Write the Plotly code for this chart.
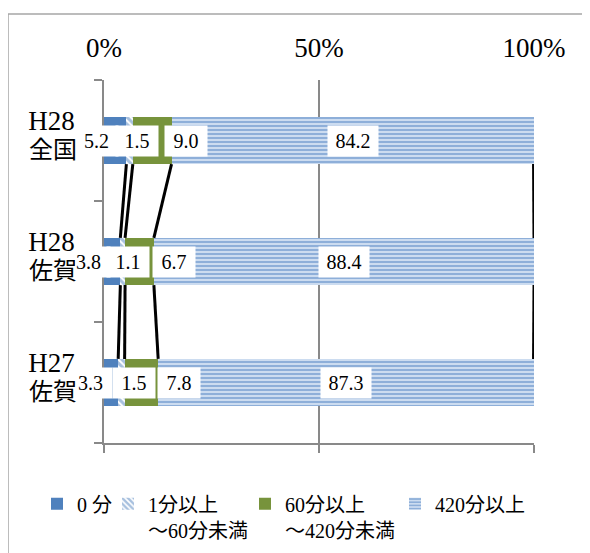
import plotly.graph_objects as go

# ---- data ----
cat_line1 = ["H28", "H28", "H27"]
cat_line2 = ["全国", "佐賀", "佐賀"]
series_names = ["0 分", "1分以上<br>～60分未満", "60分以上<br>～420分未満", "420分以上"]
v_0 = [5.2, 3.8, 3.3]
v_1_60 = [1.5, 1.1, 1.5]
v_60_420 = [9.0, 6.7, 7.8]
v_420 = [84.2, 88.4, 87.3]
x_ticks = [0, 50, 100]
x_ticktext = ["0%", "50%", "100%"]

series = [v_0, v_1_60, v_60_420, v_420]

# ---- styles ----
FONT = "Liberation Serif, Noto Sans CJK JP, serif"
GRAY = "#898989"
BLUE = "#4F81BD"
GREEN = "#77933C"
BAR_W = 0.39
markers = [
    dict(color=BLUE, line=dict(width=0)),
    dict(color="white", line=dict(width=0),
         pattern=dict(shape="\\", fgcolor=BLUE, bgcolor="white", size=5, solidity=0.6)),
    dict(color=GREEN, line=dict(width=0)),
    dict(color="#c9d8ee", line=dict(width=0),
         pattern=dict(shape="-", fgcolor="#4a7dc0", bgcolor="#d3e0f2", size=4, solidity=0.55)),
]
# label pixel nudges (Excel auto-placement), per category per series
label_shift = [[-18, 7, 34, 0], [-23, 5, 35, 0], [-20, 13, 38, 0]]
label_box_w = [34, 42, 42, 50]
label_align = ["left", "center", "center", "center"]
label_box_extra = [4, 0, 0, 0]   # box offset so that text sits at the nudged spot

# page body margin offset (browser default) compensation
OFF = 8
W, H = 590, 553
L, T = 104 - OFF, 80 - OFF
pw, ph = 430, 369
R, B = W - L - pw, H - T - ph

def px_x(fx):  # figure px -> paper x
    return (fx - L) / pw

def px_y(fy):  # figure px -> paper y
    return (T + ph - fy) / ph

legend_x_screen = [37, 108, 245, 395]
legend_top_screen = 491

ypos = list(range(len(cat_line1)))
ncat = len(ypos)

fig = go.Figure()
legend_ids = ["legend", "legend2", "legend3", "legend4"]
for name, vals, mk, lid in zip(series_names, series, markers, legend_ids):
    fig.add_trace(go.Bar(
        x=vals, y=ypos, orientation="h", name=name, width=BAR_W,
        marker=mk, hoverinfo="skip", legend=lid))

# cumulative ends
cum = []
running = [0.0] * ncat
starts = []
for vals in series:
    starts.append(running[:])
    running = [r + v for r, v in zip(running, vals)]
    cum.append(running[:])

# series lines
half = BAR_W / 2
for k in range(len(series)):
    for i in range(ncat - 1):
        fig.add_trace(go.Scatter(
            x=[cum[k][i], cum[k][i + 1]], y=[i + half, i + 1 - half],
            mode="lines", line=dict(color="black", width=3),
            showlegend=False, hoverinfo="skip", xaxis="x2"))

# carrier for second category-label axis
fig.add_trace(go.Scatter(x=[None], y=[None], yaxis="y3", showlegend=False,
                         hoverinfo="skip"))

# data labels
for k, vals in enumerate(series):
    for i, v in enumerate(vals):
        txt = f"{v:.1f}"
        fig.add_annotation(
            x=starts[k][i] + v / 2, y=ypos[i], xref="x", yref="y",
            text=txt, showarrow=False,
            xshift=label_shift[i][k] + label_box_extra[k],
            font=dict(family=FONT, size=20, color="black"),
            bgcolor="white", width=label_box_w[k], height=30,
            align=label_align[k], borderpad=0)

fig.add_shape(type="rect", xref="paper", yref="paper",
              x0=px_x(0), x1=px_x(W + 20),
              y0=px_y(H + 20), y1=px_y(13 - OFF),
              line=dict(color="#a6a6a6", width=1.5), fillcolor="rgba(0,0,0,0)",
              layer="below")

legend_common = dict(orientation="h", xanchor="left", yanchor="top",
                     valign="top", font=dict(family=FONT, size=20),
                     bgcolor="rgba(0,0,0,0)")
legends = {}
for lid, lx in zip(legend_ids, legend_x_screen):
    legends[lid] = dict(legend_common, x=px_x(lx - OFF),
                        y=px_y(legend_top_screen - OFF))

yrange = [ncat - 0.5, -0.5]
fig.update_layout(
    width=W, height=H, margin=dict(l=L, r=R, t=T, b=B),
    barmode="stack", paper_bgcolor="white", plot_bgcolor="white",
    font=dict(family=FONT, color="black"),
    xaxis=dict(range=[0, 100], tickvals=x_ticks, showticklabels=False,
               showgrid=True, gridcolor=GRAY, gridwidth=1.5,
               showline=True, linecolor=GRAY, linewidth=1.5,
               ticks="outside", ticklen=8, tickcolor=GRAY, tickwidth=1.5,
               zeroline=False, fixedrange=True),
    xaxis2=dict(range=[0, 100], overlaying="x", side="top", anchor="y",
                tickvals=x_ticks, ticktext=x_ticktext, showgrid=False,
                showline=False, ticks="", zeroline=False,
                tickfont=dict(family=FONT, size=27), ticklabelstandoff=17),
    yaxis=dict(range=yrange, tickvals=ypos,
               ticktext=cat_line1, ticks="", showgrid=False, zeroline=False,
               showline=True, linecolor=GRAY, linewidth=1.5,
               tickfont=dict(family=FONT, size=27), ticklabelstandoff=22,
               ticklabelshift=20,
               minor=dict(tickvals=[-0.5, 0.5, 1.5, 2.5], ticks="outside",
                          ticklen=8, tickcolor=GRAY, tickwidth=1.5)),
    yaxis3=dict(range=yrange, overlaying="y", side="left", anchor="x",
                tickvals=ypos, ticktext=cat_line2, ticks="", showgrid=False,
                zeroline=False, showline=False,
                tickfont=dict(family=FONT, size=24), ticklabelstandoff=26,
                ticklabelshift=-9),
    showlegend=True,
    **legends,
)

fig.write_html("out.html")
